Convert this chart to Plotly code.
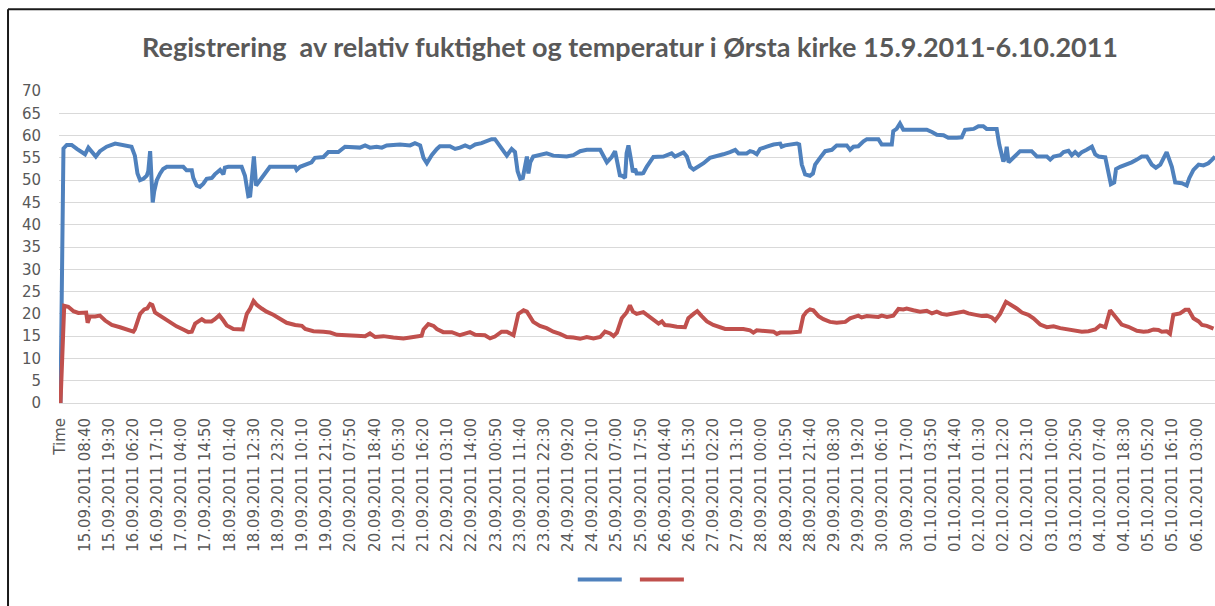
import plotly.graph_objects as go

tick_labels = [
    "Time",
    "15.09.2011 08:40", "15.09.2011 19:30", "16.09.2011 06:20", "16.09.2011 17:10",
    "17.09.2011 04:00", "17.09.2011 14:50", "18.09.2011 01:40", "18.09.2011 12:30",
    "18.09.2011 23:20", "19.09.2011 10:10", "19.09.2011 21:00", "20.09.2011 07:50",
    "20.09.2011 18:40", "21.09.2011 05:30", "21.09.2011 16:20", "22.09.2011 03:10",
    "22.09.2011 14:00", "23.09.2011 00:50", "23.09.2011 11:40", "23.09.2011 22:30",
    "24.09.2011 09:20", "24.09.2011 20:10", "25.09.2011 07:00", "25.09.2011 17:50",
    "26.09.2011 04:40", "26.09.2011 15:30", "27.09.2011 02:20", "27.09.2011 13:10",
    "28.09.2011 00:00", "28.09.2011 10:50", "28.09.2011 21:40", "29.09.2011 08:30",
    "29.09.2011 19:20", "30.09.2011 06:10", "30.09.2011 17:00", "01.10.2011 03:50",
    "01.10.2011 14:40", "02.10.2011 01:30", "02.10.2011 12:20", "02.10.2011 23:10",
    "03.10.2011 10:00", "03.10.2011 20:50", "04.10.2011 07:40", "04.10.2011 18:30",
    "05.10.2011 05:20", "05.10.2011 16:10", "06.10.2011 03:00",
]
rows_per_label = 65  # one label every 65 rows (10-minute rows)

# Relative humidity (%) : row index -> value
rh_row = [0, 8, 17, 30, 44, 66, 75, 84, 95, 106, 124, 147, 160, 178, 191, 200, 207, 214, 223, 232,
          236, 241, 245, 248, 252, 259, 268, 276, 286, 330, 339, 353, 357, 366, 375, 384, 393, 407,
          415, 429, 438, 442, 451, 487, 496, 505, 510, 516, 520, 526, 536, 550, 563, 631, 635, 644,
          657, 675, 684, 698, 707, 720, 747, 765, 787, 805, 819, 832, 850, 864, 877, 913, 940, 953,
          967, 976, 985, 998, 1012, 1020, 1047, 1061, 1074, 1088, 1101, 1115, 1132, 1146, 1159,
          1168, 1182, 1200, 1213, 1222, 1229, 1236, 1243, 1249, 1254, 1258, 1263, 1271, 1289, 1307,
          1325, 1361, 1379, 1397, 1415, 1451, 1469, 1482, 1491, 1500, 1504, 1509, 1518, 1522, 1527,
          1533, 1539, 1545, 1549, 1563, 1567, 1576, 1585, 1594, 1621, 1634, 1643, 1652, 1661, 1675,
          1684, 1693, 1702, 1715, 1729, 1746, 1764, 1782, 1800, 1814, 1823, 1845, 1854, 1863, 1872,
          1881, 1899, 1917, 1935, 1939, 1948, 1980, 1986, 1993, 2002, 2015, 2023, 2029, 2042, 2056,
          2074, 2087, 2114, 2123, 2132, 2145, 2159, 2168, 2199, 2208, 2235, 2239, 2248, 2257, 2266,
          2293, 2329, 2343, 2356, 2374, 2387, 2410, 2423, 2432, 2455, 2468, 2481, 2490, 2517, 2524,
          2531, 2535, 2540, 2544, 2549, 2555, 2567, 2580, 2611, 2625, 2652, 2661, 2670, 2688, 2697,
          2710, 2719, 2728, 2737, 2746, 2759, 2773, 2782, 2791, 2809, 2818, 2824, 2833, 2838, 2849,
          2867, 2880, 2894, 2907, 2921, 2934, 2945, 2957, 2974, 2988, 2997, 3015, 3028, 3035, 3046,
          3060, 3073, 3086, 3095, 3104]
rh_val = [0, 57.1, 57.9, 57.9, 57.0, 55.8, 57.3, 56.5, 55.3, 56.5, 57.5, 58.2, 58.0, 57.8, 57.5, 55.5,
          51.5, 50.0, 50.3, 51.0, 52.0, 56.5, 48.0, 45.0, 47.5, 50.0, 51.5, 52.5, 53.0, 53.0, 52.2,
          52.2, 50.5, 48.8, 48.5, 49.2, 50.3, 50.5, 51.3, 52.3, 51.3, 52.8, 53.0, 53.0, 51.0, 46.4,
          46.5, 51.0, 55.3, 48.8, 50.0, 51.8, 53.0, 53.0, 52.3, 53.0, 53.5, 54.0, 55.0, 55.0, 55.2,
          56.3, 56.3, 57.5, 57.5, 57.3, 57.8, 57.3, 57.5, 57.3, 57.8, 58.0, 57.8, 58.3, 57.8, 55.0,
          53.8, 55.6, 57.0, 57.6, 57.6, 57.0, 57.3, 57.8, 57.3, 58.0, 58.3, 58.8, 59.2, 59.2, 57.5,
          55.5, 57.0, 56.3, 52.0, 50.3, 50.5, 53.2, 55.3, 51.5, 54.0, 55.3, 55.6, 56.0, 55.5, 55.3,
          55.6, 56.5, 56.8, 56.8, 54.0, 55.2, 56.5, 53.0, 51.1, 51.0, 50.5, 56.0, 57.8, 55.0, 51.8,
          52.5, 51.5, 51.5, 51.6, 53.0, 54.0, 55.2, 55.3, 55.8, 56.0, 55.3, 55.6, 56.2, 55.3, 53.0,
          52.4, 53.0, 53.8, 55.0, 55.3, 55.8, 56.3, 56.8, 56.0, 56.0, 56.5, 56.3, 55.8, 57.0, 57.5,
          58.0, 58.2, 57.5, 57.8, 58.2, 58.0, 53.5, 51.3, 51.0, 51.5, 53.5, 55.0, 56.5, 56.8, 57.8,
          57.8, 56.8, 57.5, 57.6, 58.7, 59.2, 59.2, 58.0, 58.0, 61.0, 61.5, 62.7, 61.3, 61.3, 61.3,
          60.8, 60.2, 60.1, 59.5, 59.5, 59.6, 61.3, 61.5, 62.1, 62.1, 61.5, 61.5, 58.0, 55.5, 54.2,
          55.0, 57.5, 54.0, 54.5, 55.6, 56.5, 56.5, 55.3, 55.3, 54.6, 55.3, 55.6, 56.3, 56.6, 55.6,
          56.3, 55.6, 56.3, 56.8, 57.5, 55.8, 55.3, 55.1, 51.5, 49.1, 49.5, 52.5, 53.0, 53.5, 54.0,
          54.6, 55.3, 55.3, 53.5, 52.8, 53.5, 56.3, 53.0, 49.5, 49.3, 48.8, 50.5, 52.3, 53.5, 53.3,
          53.8, 54.5, 55.3]

# Temperature (deg C) : row index -> value
temp_row = [0, 10, 21, 35, 48, 61, 69, 73, 79, 93, 106, 120, 138, 160, 178, 196, 200, 214, 225, 233,
            241, 247, 254, 268, 281, 294, 312, 330, 344, 353, 362, 371, 380, 389, 406, 415, 427, 438,
            447, 465, 474, 490, 501, 510, 519, 528, 541, 554, 572, 590, 608, 631, 649, 658, 680, 707,
            725, 743, 770, 796, 819, 832, 846, 868, 895, 922, 940, 958, 971, 976, 985, 989, 1003,
            1012, 1029, 1052, 1074, 1088, 1101, 1115, 1128, 1141, 1155, 1168, 1186, 1200, 1218, 1231,
            1245, 1254, 1271, 1289, 1307, 1325, 1343, 1361, 1379, 1397, 1415, 1433, 1451, 1464, 1478,
            1487, 1496, 1509, 1522, 1531, 1539, 1549, 1567, 1581, 1594, 1608, 1617, 1625, 1639, 1657,
            1679, 1688, 1702, 1712, 1724, 1738, 1755, 1773, 1787, 1809, 1836, 1854, 1863, 1872, 1899,
            1917, 1926, 1935, 1962, 1980, 1988, 1997, 2006, 2015, 2024, 2038, 2051, 2069, 2087, 2110,
            2123, 2145, 2154, 2168, 2186, 2199, 2208, 2222, 2239, 2253, 2266, 2275, 2293, 2311, 2329,
            2343, 2356, 2369, 2383, 2401, 2428, 2441, 2464, 2477, 2490, 2504, 2513, 2526, 2542, 2558,
            2571, 2585, 2602, 2616, 2634, 2652, 2670, 2688, 2706, 2728, 2746, 2764, 2782, 2795, 2809,
            2822, 2836, 2853, 2871, 2894, 2912, 2925, 2939, 2952, 2961, 2974, 2983, 2992, 3010, 3024,
            3033, 3046, 3060, 3069, 3082, 3100]
temp_val = [0, 21.8, 21.6, 20.6, 20.2, 20.2, 20.3, 18.0, 19.4, 19.4, 19.6, 18.5, 17.5, 17.0, 16.4,
            16.0, 16.5, 20.0, 21.0, 21.2, 22.2, 22.0, 20.3, 19.5, 19.0, 18.0, 17.2, 16.5, 15.9, 16.0,
            17.8, 18.3, 18.8, 18.3, 18.3, 18.8, 19.7, 18.5, 17.4, 16.6, 16.5, 16.5, 20.0, 21.2, 22.9,
            22.0, 21.2, 20.5, 19.8, 19.0, 18.0, 17.5, 17.3, 16.6, 16.1, 16.0, 15.8, 15.3, 15.3, 15.1,
            15.0, 15.6, 14.8, 15.0, 14.7, 14.5, 14.7, 15.0, 15.1, 16.5, 17.3, 17.7, 17.3, 16.6, 15.9,
            15.9, 15.2, 15.6, 15.9, 15.3, 15.3, 15.2, 14.5, 14.9, 16.0, 16.0, 15.2, 20.0, 20.8, 20.5,
            18.2, 17.3, 16.8, 16.0, 15.5, 14.8, 14.7, 14.4, 14.8, 14.5, 14.8, 16.0, 15.6, 15.0, 15.8,
            19.0, 20.3, 21.9, 20.5, 20.0, 20.4, 19.5, 18.8, 17.8, 18.3, 17.5, 17.4, 17.1, 17.0, 19.0,
            20.0, 20.6, 19.5, 18.3, 17.5, 17.1, 16.6, 16.6, 16.6, 16.3, 15.8, 16.3, 16.0, 16.0, 15.5,
            15.8, 15.8, 15.8, 16.0, 19.5, 20.5, 21.0, 20.8, 19.5, 18.8, 18.2, 18.0, 18.2, 19.0, 19.6,
            19.2, 19.5, 19.4, 19.3, 19.6, 19.3, 19.6, 21.1, 21.0, 21.2, 20.8, 20.5, 20.7, 20.1, 20.5,
            20.0, 19.8, 20.1, 20.5, 20.1, 19.8, 19.5, 19.6, 19.2, 18.5, 20.0, 22.7, 22.0, 21.2, 20.3,
            19.8, 19.0, 17.6, 17.0, 17.2, 16.8, 16.6, 16.2, 16.0, 16.1, 16.5, 17.4, 17.0, 20.8, 19.3,
            17.6, 17.1, 16.2, 16.0, 16.1, 16.5, 16.4, 16.0, 16.1, 15.5, 19.8, 20.1, 20.9, 20.9, 19.0,
            18.3, 17.5, 17.3, 16.7]

BLUE = "#4F81BD"
RED = "#C0504D"
GREY_TXT = "#595959"
GRID = "#D9D9D9"

fig = go.Figure()
fig.add_trace(go.Scatter(x=rh_row, y=rh_val, mode="lines", name=" ",
                         line=dict(color=BLUE, width=4)))
fig.add_trace(go.Scatter(x=temp_row, y=temp_val, mode="lines", name=" ",
                         line=dict(color=RED, width=4)))

fig.update_layout(
    width=1215, height=606,
    margin=dict(l=59, r=0, t=91, b=203),
    paper_bgcolor="white", plot_bgcolor="white",
    title=dict(
        text="Registrering  av relativ fuktighet og temperatur i Ørsta kirke 15.9.2011-6.10.2011",
        x=0.494, xref="paper", y=1 - 48 / 606, yref="container", xanchor="center", yanchor="middle",
        font=dict(family="Lato", size=27, color=GREY_TXT, weight="bold"),
    ),
    showlegend=True,
    legend=dict(orientation="h", x=0.4985, xanchor="center", y=-0.566, yanchor="middle",
                font=dict(size=12), itemwidth=44, bgcolor="rgba(0,0,0,0)"),
    xaxis=dict(
        range=[-4, 3104], tickmode="array",
        tickvals=[rows_per_label * i for i in range(len(tick_labels))],
        ticktext=tick_labels, tickangle=-90,
        showgrid=False, zeroline=False, showline=True, linecolor=GRID, linewidth=1,
        ticks="", ticklabelstandoff=8,
        tickfont=dict(family="DejaVu Sans", size=15, color=GREY_TXT),
    ),
    yaxis=dict(
        range=[0, 70], dtick=5, tick0=0,
        showgrid=True, gridcolor=GRID, gridwidth=1, zeroline=False, showline=False,
        ticks="", ticklabelstandoff=17,
        tickfont=dict(family="DejaVu Sans", size=15, color=GREY_TXT),
    ),
    shapes=[
        dict(type="line", xref="paper", yref="paper", x0=-0.0441, x1=-0.0441, y0=-0.66, y1=1.262,
             line=dict(color="#1a1a1a", width=2)),
        dict(type="line", xref="paper", yref="paper", x0=-0.0441, x1=1.05, y0=1.262, y1=1.262,
             line=dict(color="#1a1a1a", width=2)),
    ],
)

fig.write_html(
    "out.html",
    config={"displayModeBar": False},
    post_script="document.body.style.margin='0';document.body.style.overflow='hidden';",
)
